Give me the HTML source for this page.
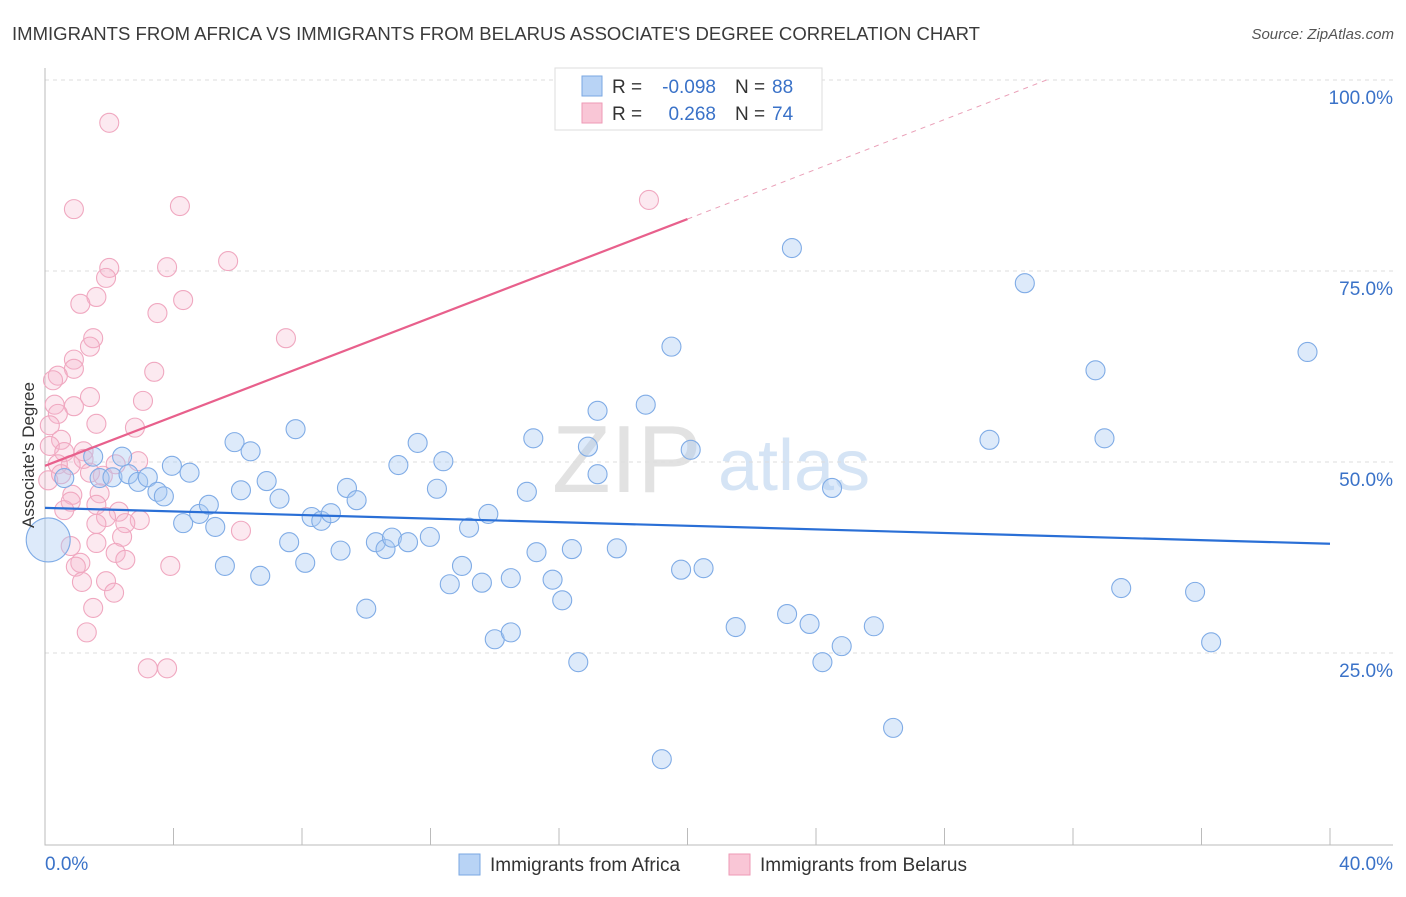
<!DOCTYPE html>
<html><head><meta charset="utf-8"><style>
body{margin:0;background:#fff;font-family:"Liberation Sans",sans-serif}
svg text{font-family:"Liberation Sans",sans-serif}
</style></head><body>
<svg id="c" width="1406" height="892" xmlns="http://www.w3.org/2000/svg">
<text x="12" y="40" font-size="18" fill="#3a3a3a" textLength="968" lengthAdjust="spacingAndGlyphs">IMMIGRANTS FROM AFRICA VS IMMIGRANTS FROM BELARUS ASSOCIATE'S DEGREE CORRELATION CHART</text>
<text x="1394" y="39" font-size="15" fill="#555" text-anchor="end" font-style="italic">Source: ZipAtlas.com</text>
<text x="552" y="492" font-size="96" fill="#e2e2e2" font-family="Liberation Serif">ZIP</text>
<text x="718" y="490" font-size="72" fill="#d5e4f5">atlas</text>
<g id="grid"></g><g id="axes"></g><g id="pts"></g><g id="lines"></g>
<text transform="translate(34,455) rotate(-90)" font-size="17" fill="#333" text-anchor="middle">Associate's Degree</text>
<g>
<rect x="555" y="68" width="267" height="62" fill="#fff" stroke="#ddd"/>
<rect x="582" y="76" width="20" height="20" fill="#b8d3f5" stroke="#7aa7e2"/>
<rect x="582" y="103" width="20" height="20" fill="#f9c6d6" stroke="#ee9ab6"/>
<text x="612" y="93" font-size="19" fill="#333">R =</text>
<text x="716" y="93" font-size="19" fill="#3a72c8" text-anchor="end">-0.098</text>
<text x="735" y="93" font-size="19" fill="#333">N =</text>
<text x="772" y="93" font-size="19" fill="#3a72c8">88</text>
<text x="612" y="120" font-size="19" fill="#333">R =</text>
<text x="716" y="120" font-size="19" fill="#3a72c8" text-anchor="end">0.268</text>
<text x="735" y="120" font-size="19" fill="#333">N =</text>
<text x="772" y="120" font-size="19" fill="#3a72c8">74</text>
</g>
<g>
<rect x="459" y="854" width="21" height="21" fill="#b8d3f5" stroke="#7aa7e2"/>
<text x="490" y="871" font-size="19" fill="#333">Immigrants from Africa</text>
<rect x="729" y="854" width="21" height="21" fill="#f9c6d6" stroke="#ee9ab6"/>
<text x="760" y="871" font-size="19" fill="#333">Immigrants from Belarus</text>
</g>
</svg>
<script>
const xTicks=[0,4,8,12,16,20,24,28,32,36,40];
const yTicks=[25,50,75,100];
const blueX=[0.1,0.6,1.5,1.7,2.1,2.4,2.6,2.9,3.2,3.5,3.7,3.95,4.3,4.5,4.8,5.1,5.3,5.6,5.9,6.1,6.4,6.7,6.9,7.3,7.6,7.8,8.1,8.3,8.6,8.9,9.2,9.4,9.7,10.0,10.3,10.6,10.8,11.0,11.3,11.6,11.98,12.2,12.4,12.6,12.98,13.2,13.6,13.8,14.0,14.5,14.5,15.0,15.2,15.3,15.8,16.1,16.4,16.6,16.9,17.2,17.2,17.8,18.7,19.2,19.5,19.8,20.1,20.5,21.5,23.1,23.25,23.8,24.2,24.5,24.8,25.8,26.4,29.4,30.5,32.7,32.98,33.5,35.8,36.3,39.3];
const blueY=[39.8,47.9,50.7,47.9,48.0,50.7,48.4,47.4,48.0,46.1,45.5,49.5,42.0,48.6,43.2,44.4,41.5,36.4,52.6,46.3,51.4,35.1,47.5,45.2,39.5,54.3,36.8,42.8,42.3,43.3,38.4,46.6,45.0,30.8,39.5,38.6,40.1,49.6,39.5,52.5,40.2,46.5,50.1,34.0,36.4,41.4,34.2,43.2,26.8,27.7,34.8,46.1,53.1,38.2,34.6,31.9,38.6,23.8,52.0,56.7,48.4,38.7,57.5,11.1,65.1,35.9,51.6,36.1,28.4,30.1,78.0,28.8,23.8,46.6,25.9,28.5,15.2,52.9,73.4,62.0,53.1,33.5,33.0,26.4,64.4];
const pinkX=[2.0,0.9,4.2,18.8,5.7,2.0,3.8,1.9,4.3,1.6,1.1,3.5,7.5,1.5,1.4,0.9,0.9,0.4,0.25,3.4,1.4,3.05,0.9,0.3,0.4,1.6,2.8,0.15,0.5,0.15,1.2,0.6,1.2,0.8,0.4,0.1,1.4,1.8,2.9,0.85,0.8,1.7,0.6,1.6,2.3,1.9,2.95,2.5,1.6,6.1,2.4,1.6,0.8,2.2,2.5,1.1,0.96,3.9,1.15,1.9,2.15,1.5,1.3,3.2,3.8,0.5,2.2];
const pinkY=[94.4,83.1,83.5,84.3,76.3,75.4,75.5,74.1,71.2,71.6,70.7,69.5,66.2,66.2,65.1,63.4,62.2,61.3,60.7,61.8,58.5,58.0,57.3,57.5,56.3,55.0,54.5,54.8,52.9,52.1,51.4,51.3,50.4,49.6,49.7,47.6,48.6,48.2,50.1,45.7,44.8,45.9,43.7,44.4,43.5,42.8,42.4,42.0,41.9,41.0,40.2,39.4,39.0,38.1,37.2,36.8,36.3,36.4,34.3,34.4,32.9,30.9,27.7,23.0,23.0,48.4,49.7];
const blueTrend=[[0,44.0],[40,39.3]];
const pinkTrend=[[0,49.5],[20,81.8]];
const pinkDash=[[20,81.8],[31.3,100.2]];
const X=v=>45+v*32.125, Y=v=>844-v*7.64;
const NS="http://www.w3.org/2000/svg";
function mk(t,a,p){const e=document.createElementNS(NS,t);for(const k in a)e.setAttribute(k,a[k]);p.appendChild(e);return e;}
const grid=document.getElementById('grid'),axes=document.getElementById('axes'),pts=document.getElementById('pts'),lines=document.getElementById('lines');
yTicks.forEach(t=>{const l=mk('line',{x1:45,x2:1393,y1:Y(t),y2:Y(t),stroke:'#ddd','stroke-dasharray':'4,4'},grid);


const tx=mk('text',{x:1393,y:Y(t)+24,'font-size':19,fill:'#3a72c8','text-anchor':'end'},axes);tx.textContent=t.toFixed(1)+'%';

});
const ax=mk('path',{d:'M45,68V845H1393',fill:'none',stroke:'#bbb'},axes);


xTicks.forEach(t=>{const l=mk('line',{x1:X(t),x2:X(t),y1:828,y2:845,stroke:'#bbb'},axes);

});
[[0,'start'],[40,'end']].forEach(([t,a])=>{const tx=mk('text',{x:t?1393:45,y:870,'font-size':19,fill:'#3a72c8','text-anchor':a},axes);tx.textContent=t.toFixed(1)+'%';

});
pinkX.forEach((x,i)=>{const c=mk('circle',{cx:X(x),cy:Y(pinkY[i]),r:9.5,fill:'rgba(246,182,204,0.3)',stroke:'#f0a8c0','stroke-width':1.1},pts);

});
blueX.forEach((x,i)=>{const c=mk('circle',{cx:X(x),cy:Y(blueY[i]),r:i==0?22:9.5,fill:'rgba(170,202,242,0.4)',stroke:'#80ace6','stroke-width':1.1},pts);

});
function ln(d,col,w,dash,name){const l=mk('line',{x1:X(d[0][0]),y1:Y(d[0][1]),x2:X(d[1][0]),y2:Y(d[1][1]),stroke:col,'stroke-width':w},lines);if(dash)l.setAttribute('stroke-dasharray',dash);

}
ln(blueTrend,'#2a6fd6',2.2,null,'africa-trend-line');
ln(pinkTrend,'#e8608c',2.2,null,'belarus-trend-line');
ln(pinkDash,'#eaa0b8',1,'5,5','belarus-trend-extension');
</script>
</body></html>
